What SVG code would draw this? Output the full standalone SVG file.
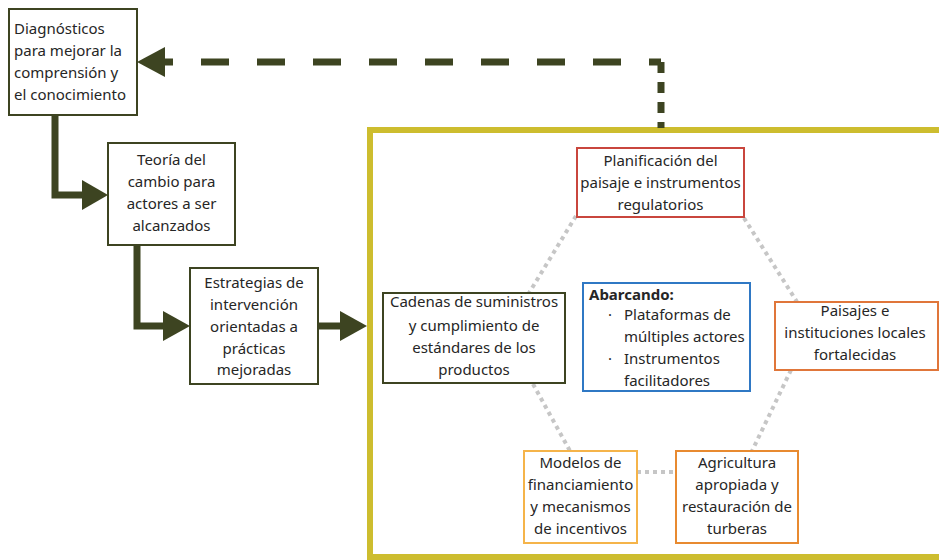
<svg xmlns="http://www.w3.org/2000/svg" width="939" height="560" viewBox="0 0 939 560">
<style>
text{font-family:"Noto Sans","Open Sans",sans-serif;font-size:15px;fill:#262626}
.c{text-anchor:middle}
.box{fill:#fff;stroke-width:2}
.olive{stroke:#3d4421}
.dot{stroke:#c6c6c6;stroke-width:4;stroke-dasharray:4 4;fill:none}
.conn{stroke:#3d4421;stroke-width:7;fill:none}
.head{fill:#3d4421}
</style>
<rect x="370" y="130" width="600" height="427" fill="none" stroke="#cdbd2f" stroke-width="6"/>
<g id="connectors">
<path class="conn" d="M55 115 V195 H84"/>
<polygon class="head" points="108,195 82,180 82,210"/>
<path class="conn" d="M137 245 V326 H165"/>
<polygon class="head" points="190,326 163,311 163,341"/>
<path class="conn" d="M318 326 H342"/>
<polygon class="head" points="367,326 340,311 340,341"/>
<path class="conn" d="M661 62 H165" stroke-dasharray="28 28" stroke-dashoffset="16"/>
<path class="conn" d="M661 62 V128" stroke-dasharray="11 9"/>
<polygon class="head" points="137,62 165,47 165,77"/>
<path class="dot" d="M576 216 L529 293"/>
<path class="dot" d="M744 218 L797 302"/>
<path class="dot" d="M533 384 L570 451"/>
<path class="dot" d="M791 370 L752 451"/>
<path class="dot" d="M637 472 H676"/>
</g>
<g id="diagnosticos">
<rect class="box olive" x="9" y="9" width="128" height="106"/>
<text x="14" y="34">Diagnósticos</text>
<text x="14" y="56">para mejorar la</text>
<text x="14" y="78">comprensión y</text>
<text x="14" y="100">el conocimiento</text>
</g>
<g id="teoria">
<rect class="box olive" x="108" y="143" width="127" height="102"/>
<text class="c" x="171.5" y="165">Teoría del</text>
<text class="c" x="171.5" y="187">cambio para</text>
<text class="c" x="171.5" y="209">actores a ser</text>
<text class="c" x="171.5" y="231">alcanzados</text>
</g>
<g id="estrategias">
<rect class="box olive" x="190" y="268" width="128" height="116"/>
<text class="c" x="254" y="288">Estrategias de</text>
<text class="c" x="254" y="310">intervención</text>
<text class="c" x="254" y="332">orientadas a</text>
<text class="c" x="254" y="354">prácticas</text>
<text class="c" x="254" y="375">mejoradas</text>
</g>
<g id="planificacion">
<rect class="box" stroke="#c9463d" x="577" y="148" width="167" height="69"/>
<text class="c" x="660.5" y="166">Planificación del</text>
<text class="c" x="660.5" y="188">paisaje e instrumentos</text>
<text class="c" x="660.5" y="210">regulatorios</text>
</g>
<g id="cadenas">
<rect class="box olive" x="383" y="293" width="182" height="90"/>
<text class="c" x="474" y="307">Cadenas de suministros</text>
<text class="c" x="474" y="331">y cumplimiento de</text>
<text class="c" x="474" y="353">estándares de los</text>
<text class="c" x="474" y="375">productos</text>
</g>
<g id="abarcando">
<rect class="box" stroke="#2f78c4" x="583" y="283" width="167" height="108"/>
<text x="589" y="300" font-weight="bold">Abarcando:</text>
<text x="608" y="320">·</text>
<text x="624" y="320">Plataformas de</text>
<text x="624" y="342">múltiples actores</text>
<text x="608" y="364">·</text>
<text x="624" y="364">Instrumentos</text>
<text x="624" y="386">facilitadores</text>
</g>
<g id="paisajes">
<rect class="box" stroke="#e0763a" x="775" y="302" width="163" height="68"/>
<text class="c" x="855" y="316">Paisajes e</text>
<text class="c" x="855" y="338">instituciones locales</text>
<text class="c" x="855" y="360">fortalecidas</text>
</g>
<g id="modelos">
<rect class="box" stroke="#f5b44a" x="524" y="451" width="113" height="92"/>
<text class="c" x="580.5" y="468">Modelos de</text>
<text class="c" x="580.5" y="490">financiamiento</text>
<text class="c" x="580.5" y="512">y mecanismos</text>
<text class="c" x="580.5" y="534">de incentivos</text>
</g>
<g id="agricultura">
<rect class="box" stroke="#e88a30" x="676" y="451" width="122" height="92"/>
<text class="c" x="737" y="468">Agricultura</text>
<text class="c" x="737" y="490">apropiada y</text>
<text class="c" x="737" y="512">restauración de</text>
<text class="c" x="737" y="534">turberas</text>
</g>
</svg>
